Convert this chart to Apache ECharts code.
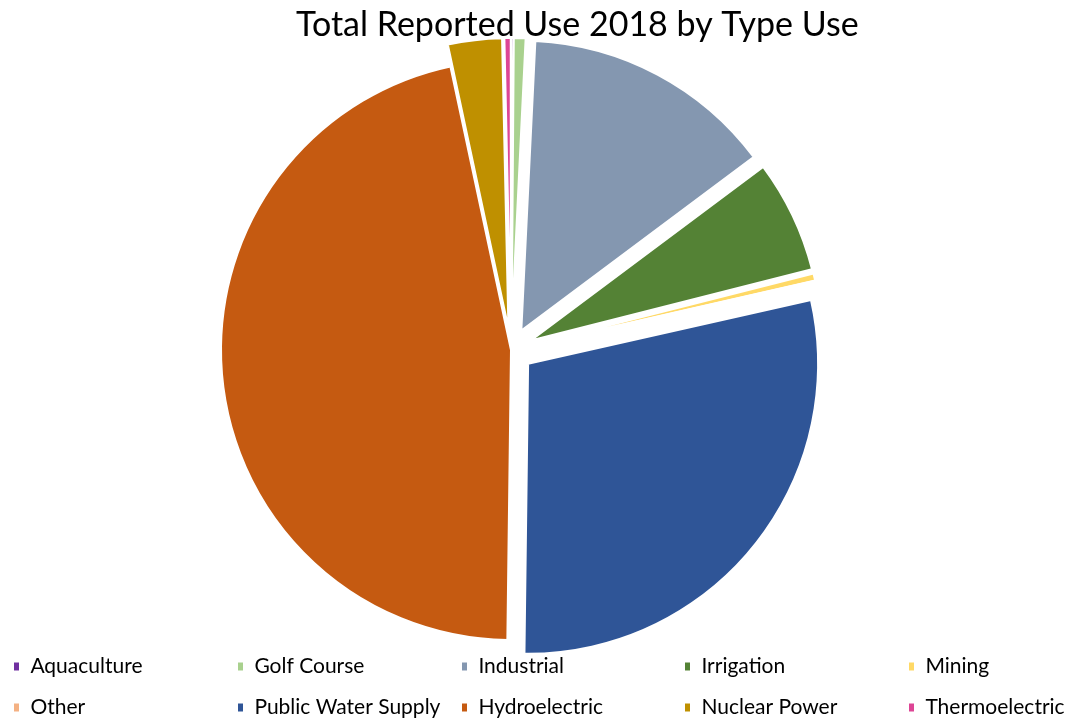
<!DOCTYPE html>
<html>
<head>
<meta charset="utf-8">
<script src="https://cdn.jsdelivr.net/npm/echarts@6/dist/echarts.min.js"></script>
<style>html,body{margin:0;padding:0;background:#fff}#c{width:1078px;height:721px}</style>
</head>
<body>
<div id="c"></div>
<script>
const categories = ['Aquaculture','Golf Course','Industrial','Irrigation','Mining','Other','Public Water Supply','Hydroelectric','Nuclear Power','Thermoelectric'];
const values = [0.12, 0.65, 14.0, 6.25, 0.4, 0.03, 28.7, 46.4, 3.0, 0.35];
const colors = ['#7030A0','#A9D18E','#8497B0','#548235','#FFD966','#F4B183','#2F5597','#C55A11','#BF9000','#DD4595'];
const notExploded = ['Hydroelectric'];

const chart = echarts.init(document.getElementById('c'));
const colLeft = [12, 236, 460, 683, 907];
const rowTop = [656, 697];
const legends = categories.map((n, i) => ({
  left: colLeft[i % 5], top: rowTop[Math.floor(i / 5)], padding: 0,
  orient: 'horizontal', itemWidth: 7, itemHeight: 10, icon: 'rect',
  formatter: ' {name}',
  textStyle: { fontFamily: 'Lato', fontSize: 21, color: '#000' },
  data: [n]
}));
chart.setOption({
  animation: false,
  color: colors,
  title: { text: 'Total Reported Use 2018 by Type Use', left: 291, top: 3,
    textStyle: { fontFamily: 'Lato', fontWeight: 'normal', fontSize: 34, color: '#000' } },
  legend: legends,
  series: [{
    type: 'pie',
    center: [511, 350],
    radius: 290,
    startAngle: 90,
    clockwise: true,
    selectedMode: 'multiple',
    selectedOffset: 22,
    label: { show: false },
    labelLine: { show: false },
    itemStyle: { borderColor: '#fff', borderWidth: 2 },
    select: { itemStyle: { borderColor: '#fff', borderWidth: 2 } },
    data: categories.map((n, i) => ({ name: n, value: values[i], selected: notExploded.indexOf(n) < 0 }))
  }]
});
</script>
</body>
</html>
